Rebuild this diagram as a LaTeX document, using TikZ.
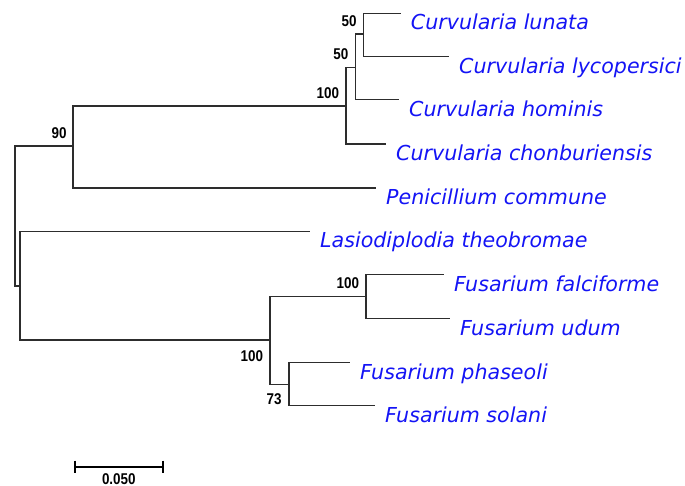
\documentclass[tikz,border=0pt]{standalone}
\usepackage{fontspec}
\setmainfont{DejaVu Sans}
\newfontfamily\bootfont[FakeStretch=0.86]{Liberation Sans}
\usepackage{xcolor}
\definecolor{taxblue}{RGB}{20,20,245}
\definecolor{branch}{RGB}{45,45,45}
\begin{document}
\begin{tikzpicture}[x=1pt,y=-1pt,
  br/.style={draw=branch,line width=1.25pt},
  taxon/.style={anchor=base west,inner sep=0pt,text=taxblue,font=\fontsize{20.6}{21}\selectfont\itshape},
  boot/.style={inner sep=0pt,font=\bootfont\bfseries\fontsize{15.6}{16}\selectfont}]
  \useasboundingbox (0,0) rectangle (685,486);
  % internal nodes (x of split, y of incoming branch)
  \coordinate (root) at (15,216);
  \coordinate (n90) at (73,146);\coordinate (ncur) at (346,106);
  \coordinate (n50b) at (355.7,67.7);\coordinate (n50a) at (363.3,34);
  \coordinate (nlow) at (20,286);\coordinate (nfus) at (270,340);
  \coordinate (nfal) at (366,296.7);\coordinate (n73) at (289,384.3);
  % leaf tips
  \coordinate (lun) at (400.7,13.3);\coordinate (lyc) at (449,56.7);
  \coordinate (hom) at (399,99.7);\coordinate (cho) at (386,144);
  \coordinate (pen) at (376,188);\coordinate (las) at (310,231.3);
  \coordinate (fal) at (444,274.3);\coordinate (udu) at (450,318.7);
  \coordinate (pha) at (350,362.3);\coordinate (sol) at (375,405.7);
  % branches
  \draw[br] (root) |- (n90);\draw[br] (root) |- (nlow);
  \draw[br] (n90) |- (ncur);\draw[br] (n90) |- (pen);
  \draw[br] (ncur) |- (n50b);\draw[br] (ncur) |- (cho);
  \draw[br] (n50b) |- (n50a);\draw[br] (n50b) |- (hom);
  \draw[br] (n50a) |- (lun);\draw[br] (n50a) |- (lyc);
  \draw[br] (nlow) |- (las);\draw[br] (nlow) |- (nfus);
  \draw[br] (nfus) |- (nfal);\draw[br] (nfus) |- (n73);
  \draw[br] (nfal) |- (fal);\draw[br] (nfal) |- (udu);
  \draw[br] (n73) |- (pha);\draw[br] (n73) |- (sol);
  % taxon names
  \node[taxon] (tlun) at ([xshift=10pt,yshift=-16.7pt]lun) {Curvularia lunata};
  \node[taxon] (tlyc) at ([xshift=10pt,yshift=-16.7pt]lyc) {Curvularia lycopersici};
  \node[taxon] (thom) at ([xshift=10pt,yshift=-16.7pt]hom) {Curvularia hominis};
  \node[taxon] (tcho) at ([xshift=10pt,yshift=-16.7pt]cho) {Curvularia chonburiensis};
  \node[taxon] (tpen) at ([xshift=10pt,yshift=-16.7pt]pen) {Penicillium commune};
  \node[taxon] (tlas) at ([xshift=10pt,yshift=-16.7pt]las) {Lasiodiplodia theobromae};
  \node[taxon] (tfal) at ([xshift=10pt,yshift=-16.7pt]fal) {Fusarium falciforme};
  \node[taxon] (tudu) at ([xshift=10pt,yshift=-16.7pt]udu) {Fusarium udum};
  \node[taxon] (tpha) at ([xshift=10pt,yshift=-16.7pt]pha) {Fusarium phaseoli};
  \node[taxon] (tsol) at ([xshift=10pt,yshift=-16.7pt]sol) {Fusarium solani};
  % bootstrap values
  \node[boot,anchor=south east] (b50a) at ([xshift=-6.5pt,yshift=6.8pt]n50a) {50};
  \node[boot,anchor=south east] (b50b) at ([xshift=-7.2pt,yshift=7.6pt]n50b) {50};
  \node[boot,anchor=south east] (bcur) at ([xshift=-6.8pt,yshift=7.6pt]ncur) {100};
  \node[boot,anchor=south east] (b90) at ([xshift=-6.3pt,yshift=6.8pt]n90) {90};
  \node[boot,anchor=south east] (bfal) at ([xshift=-6.7pt,yshift=7.4pt]nfal) {100};
  \node[boot,anchor=north east] (bfus) at ([xshift=-6.7pt,yshift=-10.7pt]nfus) {100};
  \node[boot,anchor=north east] (b73) at ([xshift=-7.3pt,yshift=-9pt]n73) {73};
  % scale bar
  \coordinate (sbl) at (75,466.7);\coordinate (sbr) at (162.7,466.7);
  \coordinate (sbm) at (118.8,466.7);
  \draw[line width=2pt] (sbl) -- (sbr);
  \draw[line width=2pt] ([yshift=6pt]sbl) -- ([yshift=-6pt]sbl);
  \draw[line width=2pt] ([yshift=6pt]sbr) -- ([yshift=-6pt]sbr);
  \node[boot,anchor=north] (sblab) at ([yshift=-6.4pt]sbm) {0.050};
\end{tikzpicture}
\end{document}
